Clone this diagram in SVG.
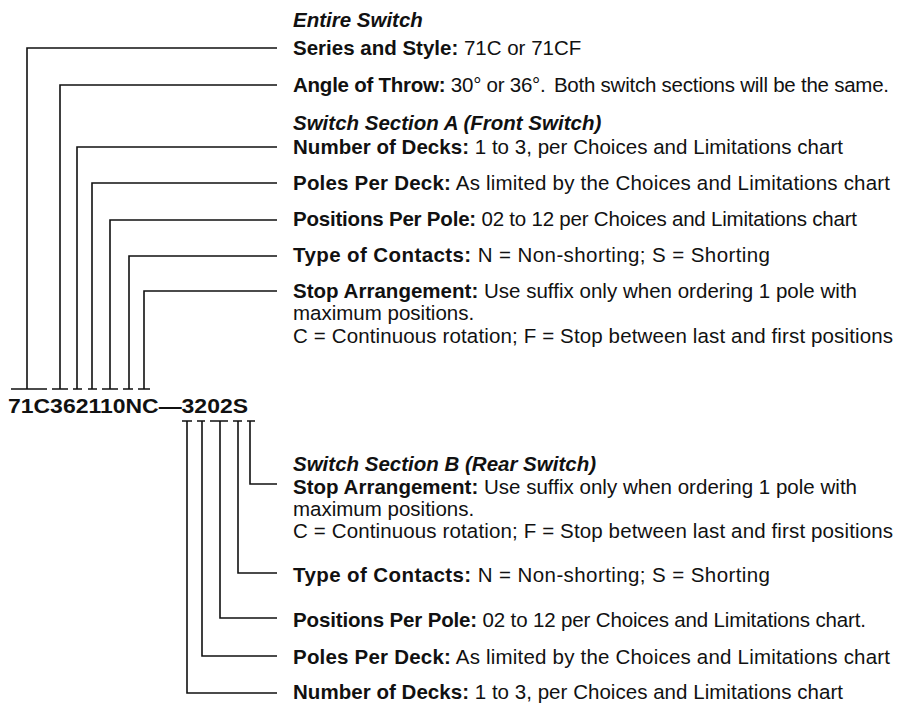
<svg xmlns="http://www.w3.org/2000/svg" width="909" height="703" viewBox="0 0 909 703">
<style>
text{font-family:"Liberation Sans",Arial,sans-serif;font-size:20.5px;fill:#111}
.b{font-weight:bold}
.h{font-weight:bold;font-style:italic}
.pn{font-weight:bold;font-size:21px}
.c{fill:none;stroke:#111;stroke-width:1.6}
</style>
<rect width="909" height="703" fill="#fff"/>
<g id="connectors" class="c">
<path d="M27,389V48H277"/>
<path d="M60,389V85H277"/>
<path d="M77,389V147H277"/>
<path d="M92,389V183H277"/>
<path d="M110,389V220H277"/>
<path d="M129,389V256H277"/>
<path d="M144,389V291H277"/>
<path d="M11,389H47M52,389H68M73,389H82M88,389H97M102,389H118M123,389H133M138,389H150"/>
<path d="M187,421V693H277"/>
<path d="M202,421V656H277"/>
<path d="M220,421V618H277"/>
<path d="M238,421V573H277"/>
<path d="M250,421V484H277"/>
<path d="M182,421H192M197,421H205M210,421H228M233,421H242M247,421H255"/>
</g>
<g id="part-number"><text class="pn" x="8" y="413" textLength="240" lengthAdjust="spacingAndGlyphs">71C362110NC—3202S</text></g>
<g id="entire-switch"><text class="h" x="293" y="27">Entire Switch</text></g>
<g id="a-series"><text x="293" y="55"><tspan class="b">Series and Style:</tspan> 71C or 71CF</text></g>
<g id="a-angle"><text x="293" y="92" textLength="596" lengthAdjust="spacing"><tspan class="b">Angle of Throw:</tspan> 30° or 36°. <tspan dx="3">Both switch sections will be the same.</tspan></text></g>
<g id="section-a"><text class="h" x="293" y="130">Switch Section A (Front Switch)</text></g>
<g id="a-decks"><text x="293" y="154" textLength="550" lengthAdjust="spacing"><tspan class="b">Number of Decks:</tspan> 1 to 3, per Choices and Limitations chart</text></g>
<g id="a-poles"><text x="293" y="190" textLength="597" lengthAdjust="spacing"><tspan class="b">Poles Per Deck:</tspan> As limited by the Choices and Limitations chart</text></g>
<g id="a-positions"><text x="293" y="226" textLength="564" lengthAdjust="spacing"><tspan class="b">Positions Per Pole:</tspan> 02 to 12 per Choices and Limitations chart</text></g>
<g id="a-contacts"><text x="293" y="262" textLength="477" lengthAdjust="spacing"><tspan class="b">Type of Contacts:</tspan> N = Non-shorting; S = Shorting</text></g>
<g id="a-stop">
<text x="293" y="298" textLength="564" lengthAdjust="spacing"><tspan class="b">Stop Arrangement:</tspan> Use suffix only when ordering 1 pole with</text>
<text x="293" y="320">maximum positions.</text>
<text x="293" y="343" textLength="600" lengthAdjust="spacing">C = Continuous rotation; F = Stop between last and first positions</text>
</g>
<g id="section-b"><text class="h" x="293" y="471">Switch Section B (Rear Switch)</text></g>
<g id="b-stop">
<text x="293" y="494" textLength="564" lengthAdjust="spacing"><tspan class="b">Stop Arrangement:</tspan> Use suffix only when ordering 1 pole with</text>
<text x="293" y="516">maximum positions.</text>
<text x="293" y="538" textLength="600" lengthAdjust="spacing">C = Continuous rotation; F = Stop between last and first positions</text>
</g>
<g id="b-contacts"><text x="293" y="582" textLength="477" lengthAdjust="spacing"><tspan class="b">Type of Contacts:</tspan> N = Non-shorting; S = Shorting</text></g>
<g id="b-positions"><text x="293" y="627" textLength="573" lengthAdjust="spacing"><tspan class="b">Positions Per Pole:</tspan> 02 to 12 per Choices and Limitations chart.</text></g>
<g id="b-poles"><text x="293" y="664" textLength="597" lengthAdjust="spacing"><tspan class="b">Poles Per Deck:</tspan> As limited by the Choices and Limitations chart</text></g>
<g id="b-decks"><text x="293" y="699" textLength="550" lengthAdjust="spacing"><tspan class="b">Number of Decks:</tspan> 1 to 3, per Choices and Limitations chart</text></g>
</svg>
